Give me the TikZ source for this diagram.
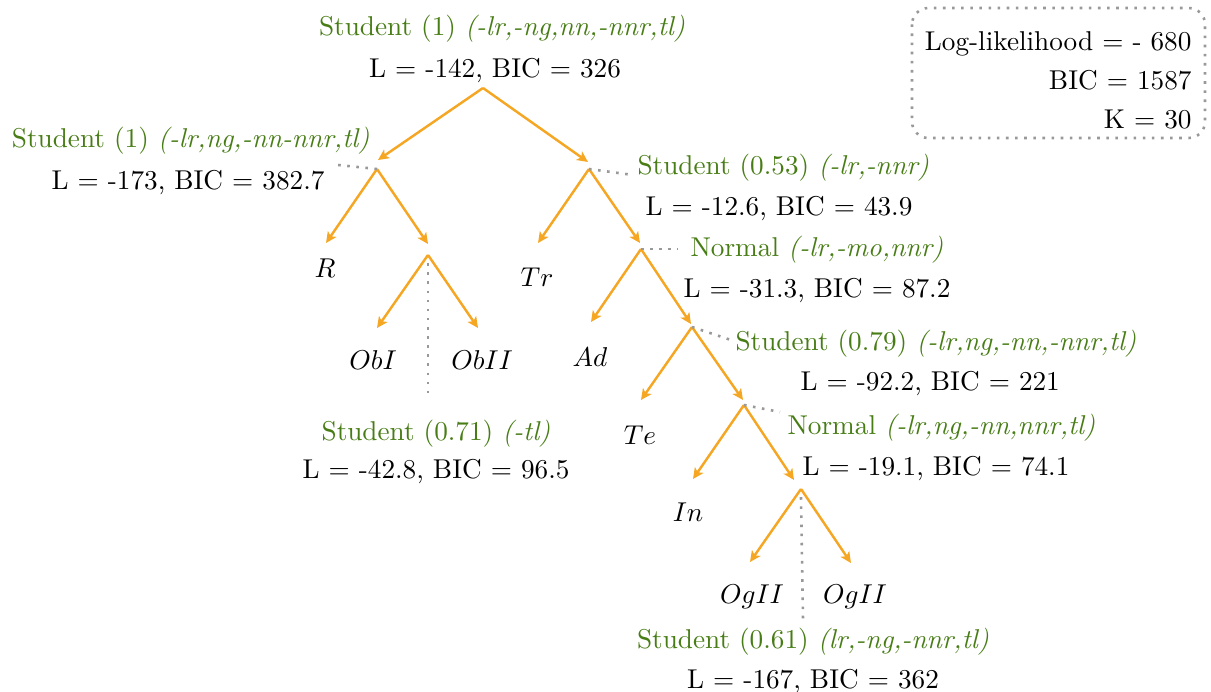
\documentclass[tikz,border=0pt]{standalone}
\usetikzlibrary{arrows.meta}
\definecolor{arrc}{RGB}{245,166,35}
\definecolor{grn}{RGB}{72,125,22}
\begin{document}
\begin{tikzpicture}[x=0.3674pt,y=-0.3674pt,
  arr/.style={draw=arrc, line width=0.9pt, -{Stealth[length=4pt,width=3.8pt,inset=1pt]}},
  dots/.style={draw=black!40, line width=0.95pt, dash pattern=on 0.95pt off 2.4pt},
  lbl/.style={inner sep=0pt},
  grnlbl/.style={inner sep=0pt, text=grn},
  leaf/.style={inner sep=0pt}]
\useasboundingbox (0,0) rectangle (1211,692);

% internal node apexes
\coordinate (root) at (483,88);
\coordinate (A) at (377,169);
\coordinate (B) at (589,169);
\coordinate (C) at (428,255);
\coordinate (D) at (641,249);
\coordinate (E) at (692,327);
\coordinate (F) at (744,405);
\coordinate (G) at (801,489);

% arrow tips
\coordinate (tA) at (378,160);
\coordinate (tB) at (588,162);
\coordinate (tR) at (326,243);
\coordinate (tC) at (428,244);
\coordinate (tObI) at (377,328);
\coordinate (tObII) at (478,328);
\coordinate (tTr) at (538,243);
\coordinate (tD) at (640,243);
\coordinate (tAd) at (591,322);
\coordinate (tE) at (691,324);
\coordinate (tTe) at (641,400);
\coordinate (tF) at (743,400);
\coordinate (tIn) at (693,479);
\coordinate (tG) at (794,480);
\coordinate (tOg1) at (750,562);
\coordinate (tOg2) at (851,563);

% leaves
\node[leaf] (R) at (325,268) {$R$};
\node[leaf] (ObI) at (373,360) {$ObI$};
\node[leaf] (ObII) at (482,360) {$ObII$};
\node[leaf] (Tr) at (537,277) {$Tr$};
\node[leaf] (Ad) at (590,357) {$Ad$};
\node[leaf] (Te) at (640,435) {$Te$};
\node[leaf] (In) at (688,512) {$In$};
\node[leaf] (Og1) at (752,597) {$OgII$};
\node[leaf] (Og2) at (855,597) {$OgII$};

% arrows
\draw[arr] (root) -- (tA);
\draw[arr] (root) -- (tB);
\draw[arr] (A) -- (tR);
\draw[arr] (A) -- (tC);
\draw[arr] (C) -- (tObI);
\draw[arr] (C) -- (tObII);
\draw[arr] (B) -- (tTr);
\draw[arr] (B) -- (tD);
\draw[arr] (D) -- (tAd);
\draw[arr] (D) -- (tE);
\draw[arr] (E) -- (tTe);
\draw[arr] (E) -- (tF);
\draw[arr] (F) -- (tIn);
\draw[arr] (F) -- (tG);
\draw[arr] (G) -- (tOg1);
\draw[arr] (G) -- (tOg2);

% dotted leaders
\coordinate (dA) at (338,165);
\coordinate (dB) at (633,175);
\coordinate (dD) at (678,249);
\coordinate (dE) at (731,340);
\coordinate (dF) at (780,412);
\coordinate (dC) at (428,397);
\coordinate (dG) at (803,620);
\draw[dots] (A) -- (dA);
\draw[dots] (B) -- (dB);
\draw[dots] (D) -- (dD);
\draw[dots] (E) -- (dE);
\draw[dots] (F) -- (dF);
\draw[dots] ([yshift=-3]C) -- (dC);
\draw[dots] ([yshift=-3]G) -- (dG);

% labels
\node[grnlbl, anchor=base] (rootT) at (502,36) {Student (1) \textit{(-lr,-ng,nn,-nnr,tl)}};
\node[lbl, anchor=base] (rootL) at (495,78) {L = -142, BIC = 326};
\node[grnlbl, anchor=base east] (AT) at (370,148) {Student (1) \textit{(-lr,ng,-nn-nnr,tl)}};
\node[lbl, anchor=base east] (AL) at (325,190) {L = -173, BIC = 382.7};
\node[grnlbl, anchor=base west] (BT) at (637,175) {Student (0.53) \textit{(-lr,-nnr)}};
\node[lbl, anchor=base west] (BL) at (645,216) {L = -12.6, BIC = 43.9};
\node[grnlbl, anchor=base west] (DT) at (690,257) {Normal \textit{(-lr,-mo,nnr)}};
\node[lbl, anchor=base west] (DL) at (683,298) {L = -31.3, BIC = 87.2};
\node[grnlbl, anchor=base west] (ET) at (735,350) {Student (0.79) \textit{(-lr,ng,-nn,-nnr,tl)}};
\node[lbl, anchor=base west] (EL) at (800,390) {L = -92.2, BIC = 221};
\node[grnlbl, anchor=base west] (FT) at (787,435) {Normal \textit{(-lr,ng,-nn,nnr,tl)}};
\node[lbl, anchor=base west] (FL) at (802,475) {L = -19.1, BIC = 74.1};
\node[grnlbl, anchor=base] (CT) at (436,440) {Student (0.71) \textit{(-tl)}};
\node[lbl, anchor=base] (CL) at (436,478) {L = -42.8, BIC = 96.5};
\node[grnlbl, anchor=base] (GT) at (813,648) {Student (0.61) \textit{(lr,-ng,-nnr,tl)}};
\node[lbl, anchor=base] (GL) at (813,688) {L = -167, BIC = 362};

% summary box
\draw[dots, rounded corners=6pt] (912,8) rectangle (1205,138);
\node[lbl, anchor=base east] (s1) at (1192,51) {Log-likelihood = - 680};
\node[lbl, anchor=base east] (s2) at (1192,90) {BIC = 1587};
\node[lbl, anchor=base east] (s3) at (1192,129) {K = 30};
\end{tikzpicture}
\end{document}
